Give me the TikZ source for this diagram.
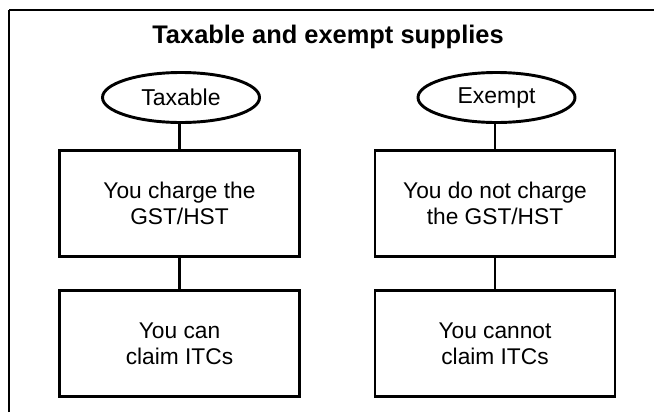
\documentclass[tikz,border=0pt]{standalone}
\usepackage{fontspec}
\setmainfont{Liberation Sans}
\usetikzlibrary{shapes.geometric}

\begin{document}
\begin{tikzpicture}[x = 0.03cm, y = -0.03cm,
    kind/.style = {ellipse, draw, line width = 2.5pt, inner sep = 0pt,
                   minimum width = 4.71cm, minimum height = 1.5cm,
                   font = \fontsize{19.6}{22}\selectfont},
    rule/.style = {rectangle, draw, line width = 2.5pt, align = center,
                   minimum width = 7.2cm, minimum height = 3.18cm,
                   font = \fontsize{19.4}{22.1}\selectfont},
    link/.style = {line width = 2.5pt}]
            \useasboundingbox (0, 0) rectangle (654, 412);
            \draw [line width = 0.9pt] (9, 412) -- (9, 10);
            \draw [line width = 1.3pt] (9, 10) -- (654, 10);
            \node (title) at (328, 37) {\fontsize{21.7}{25}\selectfont\bfseries Taxable and exempt supplies};
            % taxable side
            \node [kind] (taxable) at (181, 97.5) {Taxable};
            \node [rule] (charge) at (179.5, 203.5) {You charge the\\GST/HST};
            \node [rule] (claim) at (179.5, 343.5) {You can\\claim ITCs};
            % exempt side
            \node [kind] (exempt) at (496.5, 97.5) {Exempt};
            \node [rule] (nocharge) at (495, 203.5) {You do not charge\\the GST/HST};
            \node [rule] (noclaim) at (495, 343.5) {You cannot\\claim ITCs};
            \draw [link] (charge.north) -- (charge.north |- taxable.south);
            \draw [link] (charge) -- (claim);
            \draw [link] (nocharge.north) -- (nocharge.north |- exempt.south);
            \draw [link] (nocharge) -- (noclaim);
        \end{tikzpicture}
\end{document}
